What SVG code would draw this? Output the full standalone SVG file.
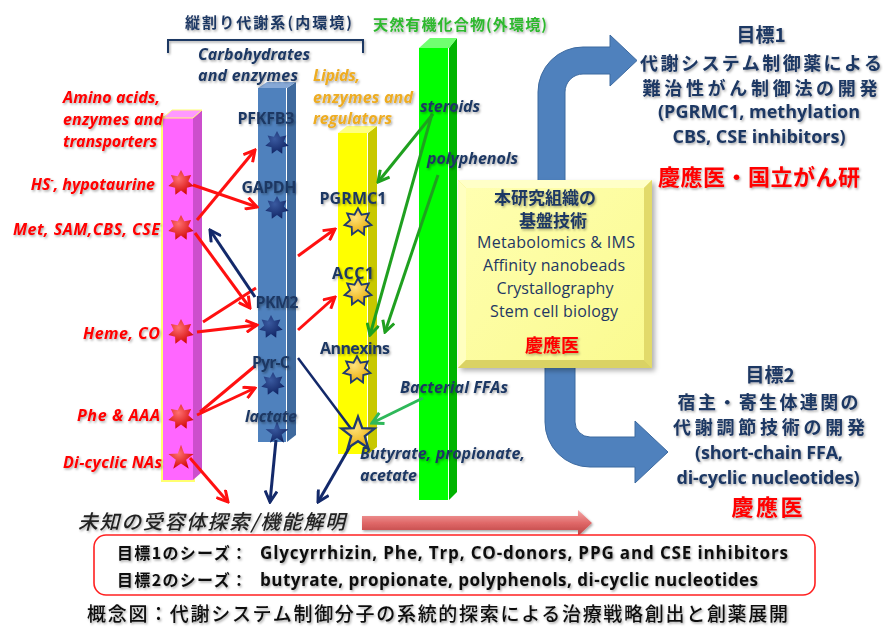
<svg xmlns="http://www.w3.org/2000/svg" xmlns:xlink="http://www.w3.org/1999/xlink" width="883" height="628" viewBox="0 0 883 628">
<defs>
<style>
.jp{font-family:"Noto Sans CJK JP","Noto Sans",sans-serif}
.en{font-family:"Open Sans","Liberation Sans",sans-serif}
.navy{fill:#1f3864}
.red{fill:#ff0000}
.lblr{font-family:"Open Sans","Liberation Sans",sans-serif;font-style:italic;font-weight:bold;font-size:16px;fill:#ff0000}
.lbln{font-family:"Open Sans","Liberation Sans",sans-serif;font-style:italic;font-weight:bold;font-size:16px;fill:#1f3864}
.lbly{font-family:"Open Sans","Liberation Sans",sans-serif;font-style:italic;font-weight:bold;font-size:16px;fill:#eeac20}
.col{font-family:"Open Sans","Liberation Sans",sans-serif;font-weight:bold;font-size:16px;fill:#1f3864}
.ar{fill:none;stroke:#ff1010;stroke-width:3;marker-end:url(#mr)}
.lr{fill:none;stroke:#ff1010;stroke-width:3}
.an{fill:none;stroke:#13296a;stroke-width:3;marker-end:url(#mn)}
.ln{fill:none;stroke:#13296a;stroke-width:2.5}
.ag{fill:none;stroke:#1fa01f;stroke-width:3;marker-end:url(#mg)}
.alg{fill:none;stroke:#2fb85a;stroke-width:3;marker-end:url(#mlg)}
.sr{fill:url(#gr)}
.sn{fill:url(#gn)}
.sg{fill:url(#gg);stroke:#1f3a70;stroke-width:1.6}
</style>
<filter id="sh" x="-10%" y="-20%" width="130%" height="150%">
<feDropShadow dx="1.2" dy="1.5" stdDeviation="1.2" flood-color="#000" flood-opacity="0.35"/>
</filter>
<filter id="sh2" x="-10%" y="-10%" width="130%" height="130%">
<feDropShadow dx="3" dy="3" stdDeviation="2.5" flood-color="#000" flood-opacity="0.3"/>
</filter>
<radialGradient id="gr" cx="0.4" cy="0.35" r="0.7"><stop offset="0" stop-color="#ff7070"/><stop offset="1" stop-color="#d00000"/></radialGradient>
<radialGradient id="gn" cx="0.4" cy="0.35" r="0.7"><stop offset="0" stop-color="#3a5aa0"/><stop offset="1" stop-color="#0e2160"/></radialGradient>
<radialGradient id="gg" cx="0.4" cy="0.35" r="0.7"><stop offset="0" stop-color="#ffe27a"/><stop offset="1" stop-color="#e8a800"/></radialGradient>
<linearGradient id="gp" x1="0" y1="0" x2="0" y2="1"><stop offset="0" stop-color="#f4a8a8"/><stop offset="0.5" stop-color="#e06868"/><stop offset="1" stop-color="#b84040"/></linearGradient>
<linearGradient id="gy" x1="0" y1="0" x2="1" y2="1"><stop offset="0" stop-color="#ffffb0"/><stop offset="1" stop-color="#fafa90"/></linearGradient>
<path id="s7" d="M0,-12 L3.04,-6.31 L9.38,-7.48 L6.82,-1.56 L11.7,2.67 L5.47,4.36 L5.21,10.81 L0,7 L-5.21,10.81 L-5.47,4.36 L-11.7,2.67 L-6.82,-1.56 L-9.38,-7.48 L-3.04,-6.31 Z"/>
<path id="s5" d="M0,-12 L2.9,-4 L11.41,-3.71 L4.7,1.5 L7.05,9.71 L0,5 L-7.05,9.71 L-4.7,1.5 L-11.41,-3.71 L-2.9,-4 Z"/>
<marker id="mr" viewBox="0 0 14 14" refX="12" refY="7" markerWidth="14" markerHeight="14" markerUnits="userSpaceOnUse" orient="auto"><path d="M1,1 L12,7 L1,13" fill="none" stroke="#ff1010" stroke-width="3"/></marker>
<marker id="mn" viewBox="0 0 14 14" refX="12" refY="7" markerWidth="14" markerHeight="14" markerUnits="userSpaceOnUse" orient="auto"><path d="M1,1 L12,7 L1,13" fill="none" stroke="#13296a" stroke-width="3"/></marker>
<marker id="mg" viewBox="0 0 14 14" refX="12" refY="7" markerWidth="14" markerHeight="14" markerUnits="userSpaceOnUse" orient="auto"><path d="M1,1 L12,7 L1,13" fill="none" stroke="#1fa01f" stroke-width="3"/></marker>
<marker id="mlg" viewBox="0 0 14 14" refX="12" refY="7" markerWidth="14" markerHeight="14" markerUnits="userSpaceOnUse" orient="auto"><path d="M1,1 L12,7 L1,13" fill="none" stroke="#2fb85a" stroke-width="3"/></marker>
</defs>
<rect width="883" height="628" fill="#ffffff"/>

<!-- headers -->
<g id="header-internal" filter="url(#sh)">
<text class="jp navy" x="185" y="28" font-size="15" font-weight="bold" textLength="167">縦割り代謝系(内環境)</text>
<path d="M168,53 V40 H363 V53" fill="none" stroke="#1f3864" stroke-width="2"/>
</g>
<g id="header-external" filter="url(#sh)">
<text class="jp" x="373" y="30" font-size="15" font-weight="bold" fill="#2db82d" textLength="174">天然有機化合物(外環境)</text>
</g>

<!-- blue bent arrows -->
<g id="goal-arrows" fill="#4f81bd" stroke="#3d6aa0" stroke-width="1">
<path d="M538,260 V92 A45,45 0 0 1 583,47 H610 V35 L637,60.5 L610,86 V74 H583 A18,18 0 0 0 565,92 V260 Z"/>
<path d="M545,360 V422 A45,45 0 0 0 590,467 H635 V483 L668,452 L635,421 V437 H590 A15,15 0 0 1 575,422 V360 Z"/>
</g>

<!-- columns -->
<g id="col-amino">
<rect x="162" y="117" width="32" height="364" fill="none" stroke="#ffff70" stroke-width="2"/>
<rect x="163" y="118" width="30" height="362" fill="#ff66ff"/>
<polygon points="193,118 202,110 202,472 193,480" fill="#cc4fcc"/>
<polygon points="163,118 172,110 202,110 193,118" fill="#ff99ff" stroke="#ffff70" stroke-width="1"/>
</g>
<g id="col-carb">
<rect x="258" y="88" width="28" height="354" fill="#4f81bd"/>
<polygon points="287,88 296,82 296,435 287,442" fill="#3f6a9e"/>
<polygon points="258,88 267,82 296,82 287,88" fill="#86a8d6"/>
</g>
<g id="col-lipid">
<rect x="338" y="133" width="29" height="321" fill="#ffff00"/>
<polygon points="368,133 377,126 377,447 368,454" fill="#c8c800"/>
<polygon points="338,133 347,126 377,126 368,133" fill="#ffff80"/>
</g>
<g id="col-natural">
<rect x="419" y="48" width="29" height="452" fill="#00ff00"/>
<polygon points="449,48 457,38 457,492 449,500" fill="#00b400"/>
<polygon points="419,48 430,38 457,38 449,48" fill="#70ff70"/>
</g>

<!-- yellow box -->
<g id="core-tech">
<rect x="458" y="180" width="194" height="188" fill="#f0ea70" filter="url(#sh2)"/>
<polygon points="458,180 652,180 644,188 466,188" fill="#ffffc8"/>
<polygon points="458,180 466,188 466,360 458,368" fill="#ffffc0"/>
<polygon points="652,180 652,368 644,360 644,188" fill="#e2da6a"/>
<polygon points="458,368 652,368 644,360 466,360" fill="#dad264"/>
<rect x="466" y="188" width="178" height="172" fill="url(#gy)"/>
<g filter="url(#sh)">
<text class="jp navy" x="545" y="204" font-size="17" font-weight="bold" text-anchor="middle">本研究組織の</text>
<text class="jp navy" x="553" y="227" font-size="17" font-weight="bold" text-anchor="middle">基盤技術</text>
</g>
<text class="en navy" x="556" y="248" font-size="16" text-anchor="middle" textLength="158">Metabolomics &amp; IMS</text>
<text class="en navy" x="554" y="271" font-size="16" text-anchor="middle" textLength="142">Affinity nanobeads</text>
<text class="en navy" x="555" y="294" font-size="16" text-anchor="middle" textLength="117">Crystallography</text>
<text class="en navy" x="554" y="317" font-size="16" text-anchor="middle" textLength="128">Stem cell biology</text>
<text class="jp red" x="552" y="352" font-size="18" font-weight="bold" text-anchor="middle" filter="url(#sh)">慶應医</text>
</g>

<!-- connectors -->
<g id="connectors">
<line class="ar" x1="193" y1="185" x2="257" y2="207"/>
<line class="ar" x1="197" y1="220" x2="255" y2="150"/>
<line class="ar" x1="195" y1="233" x2="250" y2="308"/>
<line class="lr" x1="203" y1="322" x2="256" y2="288"/>
<line class="ar" x1="197" y1="332" x2="257" y2="325"/>
<line class="ar" x1="197" y1="415" x2="255" y2="388"/>
<line class="lr" x1="200" y1="412" x2="255" y2="366"/>
<line class="ar" x1="190" y1="458" x2="228" y2="502"/>
<line class="ar" x1="298" y1="256" x2="335" y2="229"/>
<line class="ar" x1="298" y1="330" x2="335" y2="297"/>
<line class="an" x1="255" y1="297" x2="210" y2="230"/>
<line class="ln" x1="298" y1="358" x2="352" y2="430"/>
<line class="an" x1="276" y1="440" x2="270" y2="502"/>
<line class="an" x1="352" y1="443" x2="318" y2="502"/>
<line class="ag" x1="433" y1="114" x2="378" y2="182"/>
<line class="ag" x1="432" y1="114" x2="370" y2="335"/>
<line class="ag" x1="438" y1="175" x2="385" y2="332"/>
<line class="alg" x1="423" y1="398" x2="372" y2="423"/>
</g>

<!-- stars -->
<g id="stars-amino">
<use href="#s7" class="sr" transform="translate(181,183) scale(1.08)"/>
<use href="#s7" class="sr" transform="translate(181,228) scale(1.08)"/>
<use href="#s7" class="sr" transform="translate(181,332) scale(1.08)"/>
<use href="#s7" class="sr" transform="translate(181,417) scale(1.08)"/>
<use href="#s5" class="sr" transform="translate(181,458) scale(1.1)"/>
</g>
<g id="stars-carb">
<use href="#s7" class="sn" transform="translate(277,143)"/>
<use href="#s7" class="sn" transform="translate(277,208)"/>
<use href="#s7" class="sn" transform="translate(271,327)"/>
<use href="#s7" class="sn" transform="translate(273,384)"/>
<use href="#s5" class="sn" transform="translate(277,433)"/>
</g>
<g id="stars-lipid">
<use href="#s7" class="sg" transform="translate(358,222) scale(1.15)"/>
<use href="#s7" class="sg" transform="translate(358,292) scale(1.15)"/>
<use href="#s7" class="sg" transform="translate(357,370) scale(1.15)"/>
<use href="#s5" class="sg" transform="translate(358,434) scale(1.45)"/>
</g>

<!-- labels -->
<g id="labels-amino" filter="url(#sh)">
<text class="lblr" x="63" y="103" textLength="97">Amino acids,</text>
<text class="lblr" x="63" y="125" textLength="100">enzymes and</text>
<text class="lblr" x="63" y="147" textLength="94">transporters</text>
<text class="lblr" x="155" y="190" text-anchor="end">HS<tspan font-size="10" dy="-7">-</tspan><tspan dy="7">, hypotaurine</tspan></text>
<text class="lblr" x="160" y="235" text-anchor="end" textLength="147">Met, SAM,CBS, CSE</text>
<text class="lblr" x="160" y="339" text-anchor="end" textLength="77">Heme, CO</text>
<text class="lblr" x="160" y="421" text-anchor="end" textLength="83">Phe &amp; AAA</text>
<text class="lblr" x="162" y="468" text-anchor="end" textLength="99">Di-cyclic NAs</text>
</g>
<g id="labels-carb" filter="url(#sh)">
<text class="lbln" x="198" y="60" textLength="112">Carbohydrates</text>
<text class="lbln" x="198" y="81" textLength="100">and enzymes</text>
<text class="col" x="266" y="124" text-anchor="middle" textLength="57">PFKFB3</text>
<text class="col" x="269" y="193" text-anchor="middle" textLength="55">GAPDH</text>
<text class="col" x="277" y="308" text-anchor="middle" textLength="43">PKM2</text>
<text class="col" x="271" y="368" text-anchor="middle" textLength="38">Pyr-C</text>
<text class="lbln" x="271" y="422" text-anchor="middle" textLength="52">lactate</text>
</g>
<g id="labels-lipid" filter="url(#sh)">
<text class="lbly" x="313" y="81" textLength="47">Lipids,</text>
<text class="lbly" x="313" y="103" textLength="100">enzymes and</text>
<text class="lbly" x="313" y="124" textLength="79">regulators</text>
<text class="col" x="353" y="204" text-anchor="middle" textLength="67">PGRMC1</text>
<text class="col" x="353" y="279" text-anchor="middle" textLength="42">ACC1</text>
<text class="col" x="355" y="354" text-anchor="middle" textLength="70">Annexins</text>
<text class="lbln" x="360" y="459" textLength="165">Butyrate, propionate,</text>
<text class="lbln" x="360" y="481" textLength="57">acetate</text>
</g>
<g id="labels-natural" filter="url(#sh)">
<text class="lbln" x="420" y="112" textLength="60">steroids</text>
<text class="lbln" x="427" y="164" textLength="91">polyphenols</text>
<text class="lbln" x="400" y="393" textLength="108">Bacterial FFAs</text>
</g>

<!-- goals -->
<g id="goal1" filter="url(#sh)">
<text class="jp navy" x="761" y="42" font-size="19" font-weight="bold" text-anchor="middle">目標1</text>
<text class="jp navy" x="761" y="70" font-size="18" font-weight="bold" text-anchor="middle" textLength="242">代謝システム制御薬による</text>
<text class="jp navy" x="760" y="95" font-size="18" font-weight="bold" text-anchor="middle" textLength="235">難治性がん制御法の開発</text>
<text class="en navy" x="759" y="118" font-size="18" font-weight="bold" text-anchor="middle" textLength="202">(PGRMC1, methylation</text>
<text class="en navy" x="759" y="143" font-size="18" font-weight="bold" text-anchor="middle" textLength="173">CBS, CSE inhibitors)</text>
<text class="jp red" x="759" y="185" font-size="22" font-weight="bold" text-anchor="middle" textLength="202">慶應医・国立がん研</text>
</g>
<g id="goal2" filter="url(#sh)">
<text class="jp navy" x="770" y="382" font-size="19" font-weight="bold" text-anchor="middle">目標2</text>
<text class="jp navy" x="768" y="409" font-size="18" font-weight="bold" text-anchor="middle" textLength="181">宿主・寄生体連関の</text>
<text class="jp navy" x="769" y="434" font-size="18" font-weight="bold" text-anchor="middle" textLength="192">代謝調節技術の開発</text>
<text class="en navy" x="769" y="459" font-size="18" font-weight="bold" text-anchor="middle" textLength="148">(short-chain FFA,</text>
<text class="en navy" x="768" y="484" font-size="18" font-weight="bold" text-anchor="middle" textLength="183">di-cyclic nucleotides)</text>
<text class="jp red" x="767" y="515" font-size="22" font-weight="bold" text-anchor="middle" textLength="71">慶應医</text>
</g>

<!-- bottom -->
<g id="unknown-receptor" filter="url(#sh)">
<text class="jp" x="78" y="529" font-size="20" font-style="italic" font-weight="500" fill="#222222" textLength="267">未知の受容体探索/機能解明</text>
</g>
<g id="progress-arrow" filter="url(#sh)">
<path d="M362,516 H578 V510 L592,523 L578,536 V530 H362 Z" fill="url(#gp)"/>
</g>
<g id="seeds">
<rect x="94" y="535" width="721" height="60" rx="12" fill="#ffffff" stroke="#ff2020" stroke-width="1.6"/>
<g filter="url(#sh)" fill="#111111">
<text class="jp" x="117" y="559" font-size="16" font-weight="bold" textLength="130">目標1のシーズ：</text>
<text class="en" x="260" y="559" font-size="17" font-weight="bold" textLength="528">Glycyrrhizin, Phe, Trp, CO-donors, PPG and CSE inhibitors</text>
<text class="jp" x="117" y="586" font-size="16" font-weight="bold" textLength="130">目標2のシーズ：</text>
<text class="en" x="260" y="586" font-size="17" font-weight="bold" textLength="498">butyrate, propionate, polyphenols, di-cyclic nucleotides</text>
</g>
</g>
<g id="caption" filter="url(#sh)">
<text class="jp" x="87" y="621" font-size="19" font-weight="500" fill="#111111" textLength="701">概念図：代謝システム制御分子の系統的探索による治療戦略創出と創薬展開</text>
</g>
</svg>
